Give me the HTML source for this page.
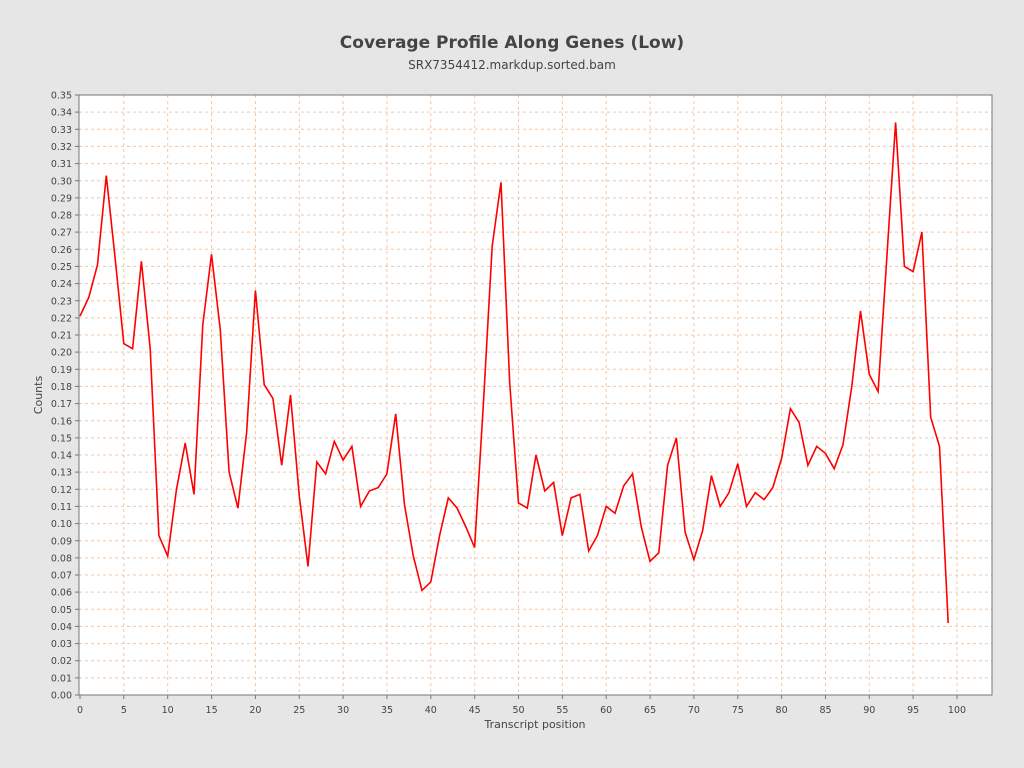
<!DOCTYPE html>
<html><head><meta charset="utf-8"><style>
html,body{margin:0;padding:0;background:#e6e6e6;}
svg{display:block;font-family:"DejaVu Sans","Liberation Sans",sans-serif;}
</style></head><body>
<svg id="s" width="1024" height="768" xmlns="http://www.w3.org/2000/svg">
<rect width="1024" height="768" fill="#e6e6e6"/>
<text x="512" y="48" text-anchor="middle" font-size="17" font-weight="bold" fill="#444">Coverage Profile Along Genes (Low)</text>
<text x="512" y="69" text-anchor="middle" font-size="12" fill="#444">SRX7354412.markdup.sorted.bam</text>
<rect x="79" y="95" width="913" height="600" fill="#fff"/>
<g id="grid" stroke="#f0c8a8" stroke-width="1" stroke-dasharray="3,3"></g>
<polyline id="line" fill="none" stroke="#ff0000" stroke-width="1.6" points=""/>
<rect x="79" y="95" width="913" height="600" fill="none" stroke="#777" stroke-width="1"/>
<g id="ticks" stroke="#777"></g>
<g font-size="9.5" fill="#444" text-anchor="end">
<text x="72" y="698.5">0.00</text><text x="72" y="681.4">0.01</text><text x="72" y="664.2">0.02</text><text x="72" y="647.1">0.03</text><text x="72" y="630.0">0.04</text><text x="72" y="612.8">0.05</text><text x="72" y="595.7">0.06</text><text x="72" y="578.5">0.07</text><text x="72" y="561.4">0.08</text><text x="72" y="544.3">0.09</text><text x="72" y="527.1">0.10</text><text x="72" y="510.0">0.11</text><text x="72" y="492.8">0.12</text><text x="72" y="475.7">0.13</text><text x="72" y="458.5">0.14</text><text x="72" y="441.4">0.15</text><text x="72" y="424.3">0.16</text><text x="72" y="407.1">0.17</text><text x="72" y="390.0">0.18</text><text x="72" y="372.8">0.19</text><text x="72" y="355.7">0.20</text><text x="72" y="338.5">0.21</text><text x="72" y="321.4">0.22</text><text x="72" y="304.3">0.23</text><text x="72" y="287.1">0.24</text><text x="72" y="270.0">0.25</text><text x="72" y="252.8">0.26</text><text x="72" y="235.7">0.27</text><text x="72" y="218.5">0.28</text><text x="72" y="201.4">0.29</text><text x="72" y="184.3">0.30</text><text x="72" y="167.1">0.31</text><text x="72" y="150.0">0.32</text><text x="72" y="132.8">0.33</text><text x="72" y="115.7">0.34</text><text x="72" y="98.5">0.35</text>
</g>
<g font-size="9.5" fill="#444" text-anchor="middle">
<text x="80" y="713">0</text><text x="123.9" y="713">5</text><text x="167.7" y="713">10</text><text x="211.6" y="713">15</text><text x="255.4" y="713">20</text><text x="299.3" y="713">25</text><text x="343.1" y="713">30</text><text x="387" y="713">35</text><text x="430.8" y="713">40</text><text x="474.7" y="713">45</text><text x="518.5" y="713">50</text><text x="562.4" y="713">55</text><text x="606.2" y="713">60</text><text x="650.1" y="713">65</text><text x="693.9" y="713">70</text><text x="737.8" y="713">75</text><text x="781.6" y="713">80</text><text x="825.5" y="713">85</text><text x="869.3" y="713">90</text><text x="913.2" y="713">95</text><text x="957" y="713">100</text>
</g>
<text x="535" y="728" text-anchor="middle" font-size="11" fill="#444">Transcript position</text>
<text transform="translate(42,395) rotate(-90)" text-anchor="middle" font-size="11" fill="#444">Counts</text>
</svg>
<script>
var v=[0.221,0.232,0.251,0.303,0.255,0.205,0.202,0.253,0.202,0.093,0.081,0.120,0.147,0.117,0.216,0.257,0.213,0.130,0.109,0.153,0.236,0.181,0.173,0.134,0.175,0.116,0.075,0.136,0.129,0.148,0.137,0.145,0.110,0.119,0.121,0.129,0.164,0.111,0.081,0.061,0.066,0.093,0.115,0.109,0.098,0.086,0.170,0.262,0.299,0.182,0.112,0.109,0.140,0.119,0.124,0.093,0.115,0.117,0.084,0.093,0.110,0.106,0.122,0.129,0.098,0.078,0.083,0.134,0.150,0.095,0.079,0.096,0.128,0.110,0.118,0.135,0.110,0.118,0.114,0.121,0.138,0.167,0.159,0.134,0.145,0.141,0.132,0.146,0.180,0.224,0.187,0.177,0.255,0.334,0.250,0.247,0.270,0.162,0.145,0.042];
var p=v.map(function(a,i){return (80+8.77*i).toFixed(1)+","+(695-1714.3*a).toFixed(1);}).join(" ");
document.getElementById("line").setAttribute("points",p);
var g="",t="";
for(var i=1;i<=35;i++){var y=(695-17.143*i).toFixed(1);g+='<line x1="79" x2="992" y1="'+y+'" y2="'+y+'"/>';}
for(var k=1;k<=20;k++){var x=(80+43.85*k).toFixed(1);g+='<line y1="95" y2="695" x1="'+x+'" x2="'+x+'"/>';}
for(var i=0;i<=35;i++){var y=(695-17.143*i).toFixed(1);t+='<line x1="75" x2="79" y1="'+y+'" y2="'+y+'"/>';}
for(var k=0;k<=20;k++){var x=(80+43.85*k).toFixed(1);t+='<line y1="695" y2="699" x1="'+x+'" x2="'+x+'"/>';}
document.getElementById("grid").innerHTML=g;
document.getElementById("ticks").innerHTML=t;
</script>
</body></html>
